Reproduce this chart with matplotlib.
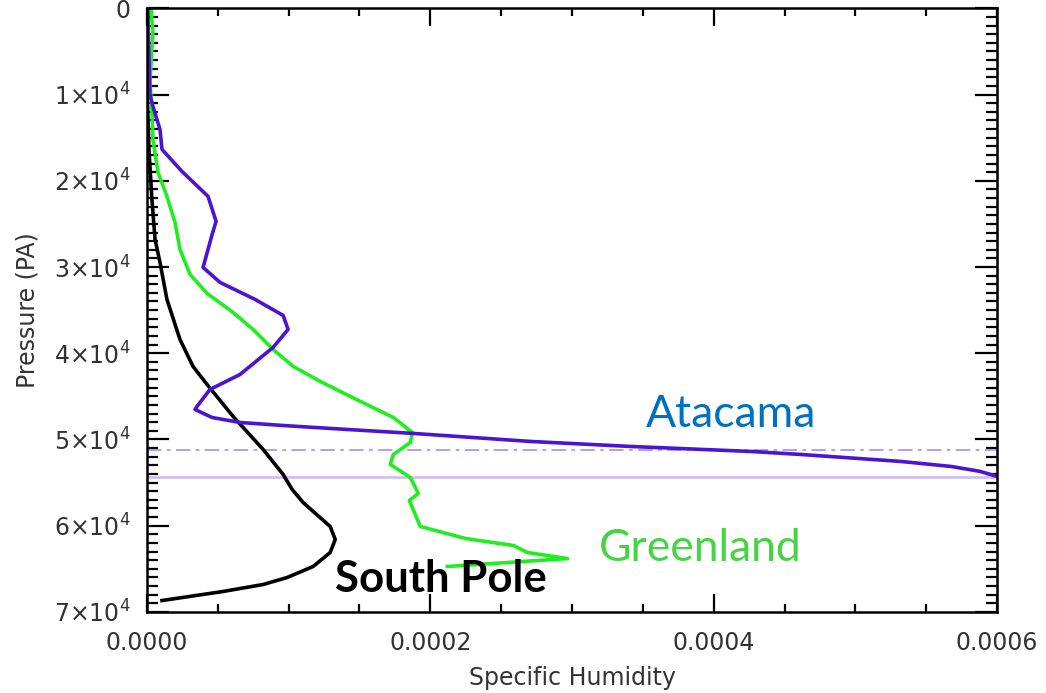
'''Specific humidity profiles for three observing sites'''
import matplotlib
matplotlib.use('Agg')
import matplotlib.pyplot as plt
from matplotlib.ticker import MultipleLocator

# Atacama profile (humidity, pressure in Pa)
atacama_q = [0.5e-6, 2.1e-6, 4.2e-6, 9.2e-6, 1.06e-5, 2.47e-5, 4.31e-5, 4.88e-5, 4.6e-5, 3.96e-5,
             5.16e-5, 7.63e-5, 9.61e-5, 9.96e-5, 8.9e-5, 6.57e-5, 4.45e-5, 3.53e-5, 3.39e-5, 4.59e-5,
             6.57e-5, 9.61e-5, 1.293e-4, 1.88e-4, 2.707e-4, 3.413e-4, 4.261e-4, 4.615e-4, 5.322e-4,
             5.675e-4, 5.88e-4, 6.0e-4]
atacama_p = [0, 1000, 1137, 1404, 1636, 1891, 2181, 2471, 2622, 3005,
             3179, 3376, 3561, 3724, 3933, 4246, 4420, 4617, 4652, 4745,
             4803, 4838, 4872, 4930, 5023, 5081, 5139, 5174, 5255,
             5313, 5370, 5429]
atacama_p = [p * 10 for p in atacama_p]

# Greenland profile
greenland_q = [2.8e-6, 4.2e-6, 2.1e-6, 3.5e-6, 4.2e-6, 7.8e-6, 1.41e-5, 1.98e-5, 2.33e-5, 3.04e-5,
               4.24e-5, 6.08e-5, 7.49e-5, 8.9e-5, 1.032e-4, 1.223e-4, 1.435e-4, 1.739e-4, 1.873e-4,
               1.859e-4, 1.739e-4, 1.717e-4, 1.859e-4, 1.915e-4, 1.852e-4, 1.929e-4, 2.247e-4,
               2.587e-4, 2.686e-4, 2.968e-4, 2.12e-4]
greenland_p = [0, 278, 858, 1172, 1520, 1903, 2181, 2483, 2796, 3086,
               3306, 3527, 3724, 3956, 4153, 4327, 4501, 4745, 4919,
               5035, 5174, 5290, 5441, 5626, 5708, 6009, 6148,
               6230, 6311, 6381, 6473]
greenland_p = [p * 10 for p in greenland_p]

# South Pole profile
southpole_q = [0.5e-6, 0.3e-6, 1.4e-6, 3.5e-6, 5.7e-6, 9.2e-6, 1.41e-5, 2.33e-5, 3.25e-5, 4.24e-5,
               6.08e-5, 8.2e-5, 9.61e-5, 1.025e-4, 1.102e-4, 1.293e-4, 1.329e-4, 1.293e-4, 1.173e-4,
               9.89e-5, 8.2e-5, 5.37e-5, 1.06e-5]
southpole_p = [0, 1056, 1636, 2216, 2680, 2947, 3376, 3840, 4153, 4362,
               4733, 5116, 5406, 5580, 5731, 6009, 6160, 6311, 6473,
               6601, 6682, 6763, 6868]
southpole_p = [p * 10 for p in southpole_p]

# reference pressure levels
dashdot_level = 51200
solid_level = 54400

x_ticks = [0.0, 0.0002, 0.0004, 0.0006]
x_tick_labels = ['0.0000', '0.0002', '0.0004', '0.0006']
y_ticks = [0, 10000, 20000, 30000, 40000, 50000, 60000, 70000]
y_tick_labels = ['0', r'1$\times$10$^4$', r'2$\times$10$^4$', r'3$\times$10$^4$',
                 r'4$\times$10$^4$', r'5$\times$10$^4$', r'6$\times$10$^4$', r'7$\times$10$^4$']

plt.rcParams['font.family'] = ['DejaVu Sans']
plt.rcParams['mathtext.fontset'] = 'dejavusans'
text_grey = '#333333'

fig = plt.figure(figsize=(10.46, 6.93), dpi=100)
ax = fig.add_axes([0.1405, 0.117, 0.8127, 0.871])

ax.axhline(dashdot_level, color='#ab95f2', lw=1.3, ls='-.', dashes=(8, 3, 2, 3))
ax.axhline(solid_level, color='#cbb8f6', lw=1.8)

ax.plot(southpole_q, southpole_p, color='black', lw=2.6)
ax.plot(greenland_q, greenland_p, color='#20ee20', lw=2.6)
ax.plot(atacama_q, atacama_p, color='#4a14d2', lw=2.6)

ax.set_xlim(0, 0.0006)
ax.set_ylim(70000, 0)

ax.set_xticks(x_ticks)
ax.set_xticklabels(x_tick_labels)
ax.set_yticks(y_ticks)
ax.set_yticklabels(y_tick_labels)
ax.xaxis.set_minor_locator(MultipleLocator(0.00005))
ax.yaxis.set_minor_locator(MultipleLocator(1000))

ax.tick_params(which='both', direction='in', top=True, right=True, width=1.6, colors='black',
               labelcolor=text_grey, labelsize=17)
ax.tick_params(axis='x', which='major', length=13, pad=14)
ax.tick_params(axis='x', which='minor', length=6)
ax.tick_params(axis='y', which='major', length=16, pad=12)
ax.tick_params(axis='y', which='minor', length=8)
for spine in ax.spines.values():
    spine.set_linewidth(1.8)

ax.set_xlabel('Specific Humidity', fontsize=17, color=text_grey, labelpad=8)
ax.set_ylabel('Pressure (PA)', fontsize=17, color=text_grey, labelpad=10)

ax.text(0.000352, 48500, 'Atacama', fontsize=32, family='Lato', color='#0070c0',
        ha='left', va='baseline')
ax.text(0.000319, 64100, 'Greenland', fontsize=32, family='Lato', color='#44d444',
        ha='left', va='baseline')
ax.text(0.000133, 67700, 'South Pole', fontsize=31.5, family='Lato', fontweight='bold',
        color='black', ha='left', va='baseline')

fig.savefig('out.png', dpi=100)
